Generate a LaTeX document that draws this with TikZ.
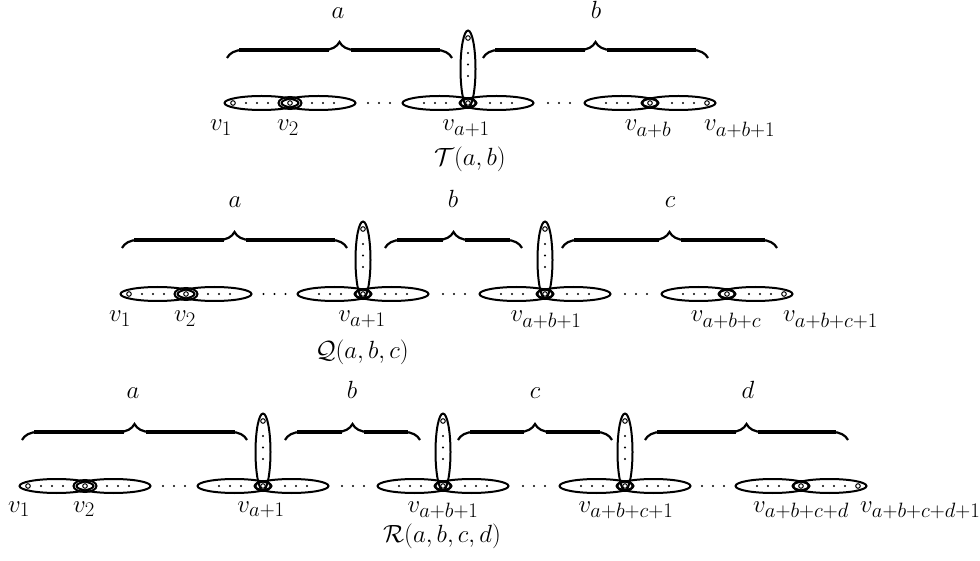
\documentclass[tikz,border=0pt]{standalone}
\usetikzlibrary{decorations.pathreplacing,shapes.geometric}
\begin{document}
\begin{tikzpicture}[x=1pt,y=-1pt,
  edge/.style={line width=2pt},
  vtx/.style={circle,draw,fill=white,inner sep=0pt,minimum size=4.6pt,line width=1pt},
  bighub/.style={ellipse,draw,inner sep=0pt,minimum width=23pt,minimum height=12pt,line width=2pt},
  smallhub/.style={ellipse,draw,inner sep=0pt,minimum width=15pt,minimum height=10pt,line width=2pt},
  lbl/.style={font=\Huge,inner sep=0pt},
  br/.style={decorate,decoration={brace,amplitude=16pt},line width=2.2pt},
  bar/.style={line width=4.2pt}]
\useasboundingbox (0,0) rectangle (980,561);
\newcommand\hgpair[4]{%
  \draw[edge] (#2-28.5,#3) ellipse [x radius=37pt, y radius=7pt];
  \draw[edge] (#2+28.5,#3) ellipse [x radius=37pt, y radius=7pt];
  \foreach \d in {-44,-33,-22,22,33,44} \fill (#2+\d,#3) circle (1.2pt);
  \node[#4] (#1h) at (#2,#3) {};
  \node[vtx] (#1) at (#2,#3) {};
}
\newcommand\hgvert[3]{%
  \draw[edge] (#2,#3-34) ellipse [x radius=7.5pt, y radius=38.5pt];
  \foreach \d in {-50,-38.5,-27} \fill (#2,#3+\d) circle (1.2pt);
  \node[vtx] (#1) at (#2,#3-65) {};
}
\newcommand\hggap[3]{%
  \foreach \d in {-11,0,11} \fill ({(#1+#2)/2+\d},#3) circle (1.2pt);
}
\newcommand\hgbrace[3]{%
  \draw[br] (#1,#3) -- (#2,#3);
  \draw[bar] (#1+12,#3-8) -- ({(#1+#2)/2-11},#3-8);
  \draw[bar] ({(#1+#2)/2+11},#3-8) -- (#2-12,#3-8);
}
% ---------------- Row 1 : T(a,b)
\hgvert{r1t}{468}{103}
\hgpair{r1p1}{290}{103}{bighub}
\hgpair{r1p2}{468}{103}{smallhub}
\hgpair{r1p3}{650}{103}{smallhub}
\node[vtx] (r1s) at (233,103) {};
\node[vtx] (r1e) at (707,103) {};
\hggap{290}{468}{103}
\hggap{468}{650}{103}
\hgbrace{227}{452}{58}
\hgbrace{483}{708}{58}
\node[lbl,anchor=base] (r1la) at (338,19) {$a$};
\node[lbl,anchor=base] (r1lb) at (596,19) {$b$};
\node[lbl,anchor=base] (r1n1) at (221,131) {$v_1$};
\node[lbl,anchor=base] (r1n2) at (288,131) {$v_2$};
\node[lbl,anchor=base] (r1n3) at (466,131) {$v_{a+1}$};
\node[lbl,anchor=base] (r1n4) at (648,131) {$v_{a+b}$};
\node[lbl,anchor=base west] (r1n5) at (704,131) {$v_{a+b+1}$};
\node[lbl,anchor=base] (r1title) at (470,166) {$\mathcal{T}(a,b)$};
% ---------------- Row 2 : Q(a,b,c)
\hgvert{r2t1}{363}{294}
\hgvert{r2t2}{545}{294}
\hgpair{r2p1}{186}{294}{bighub}
\hgpair{r2p2}{363}{294}{smallhub}
\hgpair{r2p3}{545}{294}{smallhub}
\hgpair{r2p4}{727}{294}{smallhub}
\node[vtx] (r2s) at (129,294) {};
\node[vtx] (r2e) at (784,294) {};
\hggap{186}{363}{294}
\hggap{363}{545}{294}
\hggap{545}{727}{294}
\hgbrace{122}{347}{248}
\hgbrace{385}{522}{248}
\hgbrace{562}{777}{248}
\node[lbl,anchor=base] (r2la) at (235,208) {$a$};
\node[lbl,anchor=base] (r2lb) at (453,208) {$b$};
\node[lbl,anchor=base] (r2lc) at (670,208) {$c$};
\node[lbl,anchor=base] (r2n1) at (120,322) {$v_1$};
\node[lbl,anchor=base] (r2n2) at (185,322) {$v_2$};
\node[lbl,anchor=base] (r2n3) at (362,322) {$v_{a+1}$};
\node[lbl,anchor=base] (r2n4) at (546,322) {$v_{a+b+1}$};
\node[lbl,anchor=base] (r2n5) at (726,322) {$v_{a+b+c}$};
\node[lbl,anchor=base west] (r2n6) at (783,322) {$v_{a+b+c+1}$};
\node[lbl,anchor=base] (r2title) at (362,358) {$\mathcal{Q}(a,b,c)$};
% ---------------- Row 3 : R(a,b,c,d)
\hgvert{r3t1}{263}{486}
\hgvert{r3t2}{443}{486}
\hgvert{r3t3}{625}{486}
\hgpair{r3p1}{85}{486}{bighub}
\hgpair{r3p2}{263}{486}{smallhub}
\hgpair{r3p3}{443}{486}{smallhub}
\hgpair{r3p4}{625}{486}{smallhub}
\hgpair{r3p5}{801}{486}{smallhub}
\node[vtx] (r3s) at (28,486) {};
\node[vtx] (r3e) at (858,486) {};
\hggap{85}{263}{486}
\hggap{263}{443}{486}
\hggap{443}{625}{486}
\hggap{625}{801}{486}
\hgbrace{22}{247}{440}
\hgbrace{285}{420}{440}
\hgbrace{458}{612}{440}
\hgbrace{645}{848}{440}
\node[lbl,anchor=base] (r3la) at (133,398) {$a$};
\node[lbl,anchor=base] (r3lb) at (352,398) {$b$};
\node[lbl,anchor=base] (r3lc) at (535,398) {$c$};
\node[lbl,anchor=base] (r3ld) at (748,398) {$d$};
\node[lbl,anchor=base] (r3n1) at (19,512) {$v_1$};
\node[lbl,anchor=base] (r3n2) at (84,512) {$v_2$};
\node[lbl,anchor=base] (r3n3) at (261,512) {$v_{a+1}$};
\node[lbl,anchor=base] (r3n4) at (443,512) {$v_{a+b+1}$};
\node[lbl,anchor=base] (r3n5) at (626,512) {$v_{a+b+c+1}$};
\node[lbl,anchor=base] (r3n6) at (801,512) {$v_{a+b+c+d}$};
\node[lbl,anchor=base west] (r3n7) at (860,512) {$v_{a+b+c+d+1}$};
\node[lbl,anchor=base] (r3title) at (442,542) {$\mathcal{R}(a,b,c,d)$};
\end{tikzpicture}
\end{document}
